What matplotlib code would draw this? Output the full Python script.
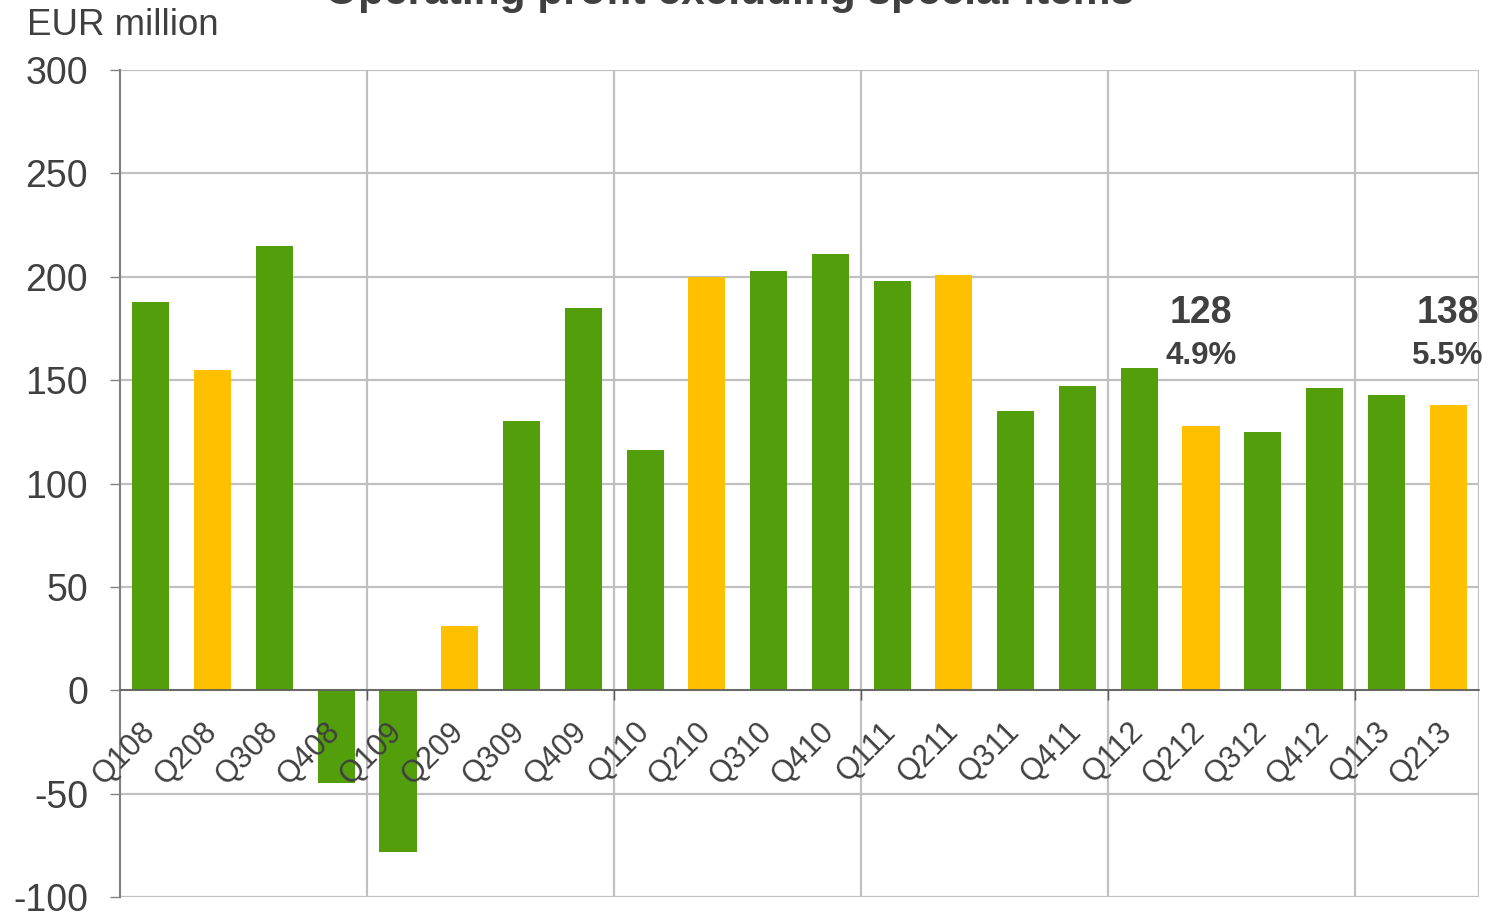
import matplotlib
matplotlib.use("Agg")
import matplotlib.pyplot as plt
import matplotlib.transforms as mtransforms

quarters = ["Q108", "Q208", "Q308", "Q408", "Q109", "Q209", "Q309", "Q409",
            "Q110", "Q210", "Q310", "Q410", "Q111", "Q211", "Q311", "Q411",
            "Q112", "Q212", "Q312", "Q412", "Q113", "Q213"]
values = [188, 155, 215, -45, -78, 31, 130, 185,
          116, 200, 203, 211, 198, 201, 135, 147,
          156, 128, 125, 146, 143, 138]
annot_idx = [17, 21]
annot_value = ["128", "138"]
annot_margin = ["4.9%", "5.5%"]
yticks = [-100, -50, 0, 50, 100, 150, 200, 250, 300]

GREEN = "#529E0B"
YELLOW = "#FFC000"
TXT = "#404040"
GRID = "#C0C0C0"

plt.rcParams['font.family'] = ['Liberation Sans', 'DejaVu Sans']

fig = plt.figure(figsize=(14.93, 9.13), dpi=100)
ax = fig.add_axes([120/1493, 1-897/913, (1479-120)/1493, (897-70)/913])

x = list(range(len(quarters)))
colors = [YELLOW if q.startswith("Q2") else GREEN for q in quarters]
ax.bar(x, values, width=0.6, color=colors, zorder=2)

ax.set_xlim(-0.5, len(quarters) - 0.5)
ax.set_ylim(-100, 300)
ax.set_yticks(yticks)
ax.set_yticklabels([str(v) for v in yticks], fontsize=27, color=TXT)

# horizontal grid (behind bars)
for yv in yticks:
    ax.axhline(yv, color=GRID, linewidth=1.6, zorder=1)

# vertical grid at year boundaries
bounds = [i - 0.5 for i in range(4, len(quarters), 4)] + [len(quarters) - 0.5]
for b in bounds:
    ax.axvline(b, color=GRID, linewidth=1.6, zorder=1)

ax.spines['bottom'].set_position(('data', 0))
ax.spines['bottom'].set_color('#595959')
ax.spines['bottom'].set_linewidth(1.2)
ax.spines['bottom'].set_zorder(4)
ax.spines['left'].set_color('#808080')
ax.spines['left'].set_linewidth(1.5)
ax.spines['left'].set_zorder(4)
ax.spines['top'].set_visible(False)
ax.spines['right'].set_visible(False)
ax.xaxis.set_zorder(5)
ax.yaxis.set_zorder(5)

ax.set_xticks(x)
ax.set_xticklabels(quarters, rotation=45, ha='right', va='top', fontsize=22, color=TXT)
ax.set_xticks(bounds[:-1], minor=True)
ax.tick_params(axis='x', which='major', length=0, pad=19)
ax.tick_params(axis='x', which='minor', length=7, width=1, color='#595959', direction='out')
ax.tick_params(axis='y', length=7, width=1, color='#808080', pad=16)
offset = mtransforms.ScaledTranslation(10/100, 0, fig.dpi_scale_trans)
for lbl in ax.get_xticklabels():
    lbl.set_transform(lbl.get_transform() + offset)

for i, v, m in zip(annot_idx, annot_value, annot_margin):
    ax.text(i, 177.5, v, ha='center', va='baseline', fontsize=27,
            fontweight='bold', color=TXT, zorder=5)
    ax.text(i, 158, m, ha='center', va='baseline', fontsize=22.5,
            fontweight='bold', color=TXT, zorder=5)

fig.text(27/1493, 1-35/913, "EUR million", ha='left', va='baseline',
         fontsize=26.4, color=TXT)
fig.text(730/1493, 1-4/913, "Operating profit excluding special items",
         ha='center', va='baseline', fontsize=30.5, fontweight='bold', color=TXT)

fig.savefig("out.png", dpi=100)
